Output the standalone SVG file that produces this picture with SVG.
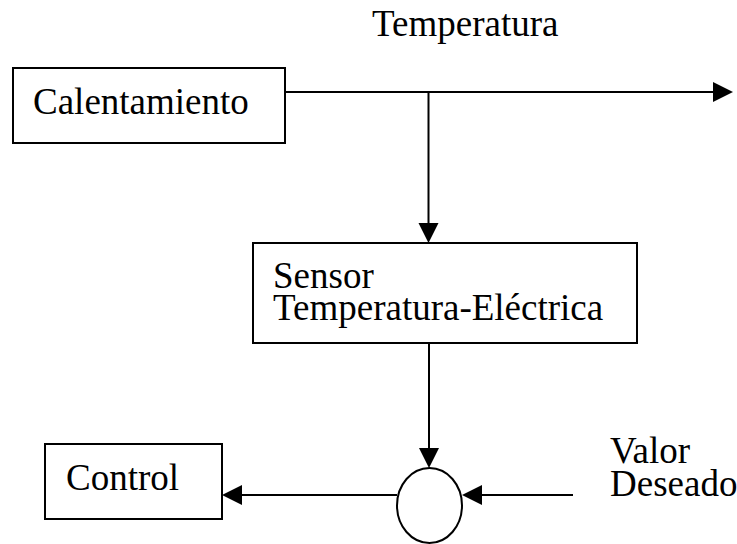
<svg xmlns="http://www.w3.org/2000/svg" width="737" height="544" viewBox="0 0 737 544">
<style>
.box{fill:#fff;stroke:#000;stroke-width:2}
.ln{fill:none;stroke:#000;stroke-width:2}
.ah{fill:#000;stroke:none}
text{font-family:"Liberation Serif","Times New Roman",serif;font-size:37px;fill:#000}
</style>
<rect width="737" height="544" fill="#fff"/>
<text x="372" y="36">Temperatura</text>
<g id="calentamiento">
<rect class="box" x="13" y="68" width="272" height="75"/>
<text x="33" y="114">Calentamiento</text>
</g>
<g id="sensor">
<rect class="box" x="253" y="243" width="384" height="100"/>
<text x="273" y="288">Sensor</text>
<text x="273" y="320">Temperatura-Eléctrica</text>
</g>
<g id="comparador">
<ellipse class="box" cx="429.5" cy="505.5" rx="32.5" ry="37.5"/>
</g>
<g id="control">
<rect class="box" x="45" y="444" width="177" height="75"/>
<text x="66" y="490">Control</text>
</g>
<text x="610" y="463">Valor</text>
<text x="610" y="496">Deseado</text>
<g id="connectors">
<line class="ln" x1="285" y1="92" x2="714" y2="92"/>
<polygon class="ah" points="733,92 713,82 713,102"/>
<line class="ln" x1="428.5" y1="92" x2="428.5" y2="224"/>
<polygon class="ah" points="428.5,243 418.5,223 438.5,223"/>
<line class="ln" x1="429" y1="343" x2="429" y2="449"/>
<polygon class="ah" points="429,468 419,448 439,448"/>
<line class="ln" x1="573" y1="495" x2="481" y2="495"/>
<polygon class="ah" points="462,495 482,485 482,505"/>
<line class="ln" x1="397" y1="495" x2="241" y2="495"/>
<polygon class="ah" points="222,495 242,485 242,505"/>
</g>
</svg>
